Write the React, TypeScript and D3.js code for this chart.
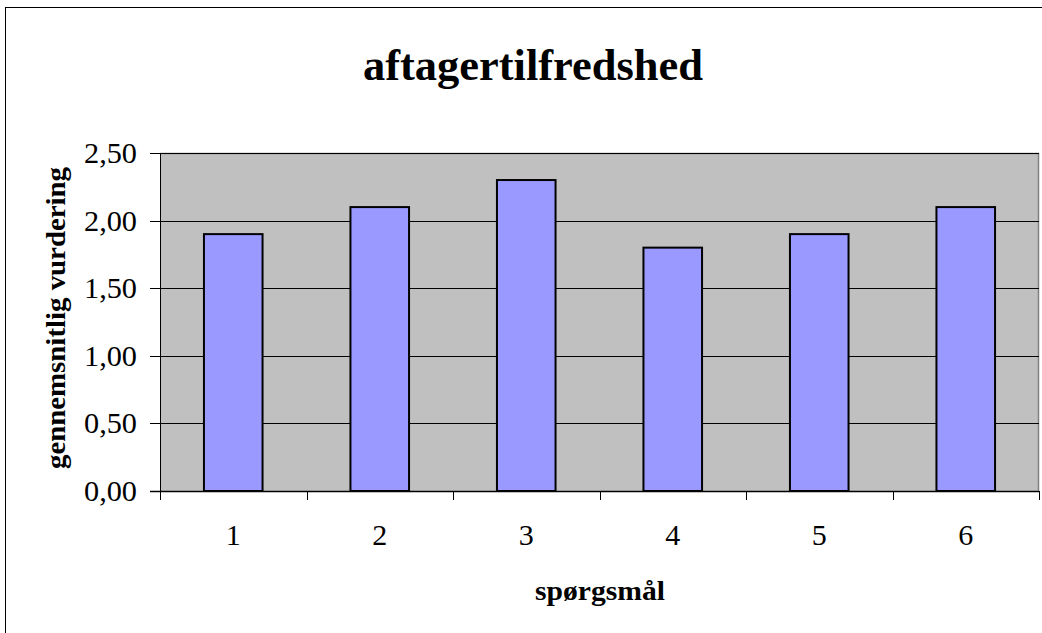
import React from "react";
import * as d3 from "d3";

const categories = ["1", "2", "3", "4", "5", "6"];
const values = [1.9, 2.1, 2.3, 1.8, 1.9, 2.1];
const yTicks = [0, 0.5, 1, 1.5, 2, 2.5];
const title = "aftagertilfredshed";
const xTitle = "spørgsmål";
const yTitle = "gennemsnitlig vurdering";

export default function App() {
  const W = 1042, H = 633;
  const left = 160, right = 1039, top = 153, bottom = 491;
  const x = d3.scaleBand<string>().domain(categories).range([left, right]).paddingInner(0).paddingOuter(0);
  const y = d3.scaleLinear().domain([0, 2.5]).range([bottom, top]);
  const bw = x.bandwidth() * 0.4;
  const fmt = (v: number) => d3.format(".2f")(v).replace(".", ",");
  const font = "'Liberation Serif', 'Times New Roman', serif";
  const boundaries = d3.range(categories.length + 1).map((i) => left + i * x.step());
  return (
    <svg width={W} height={H} style={{ position: "absolute", left: 0, top: 0, background: "#fff" }} fontFamily={font}>
      <rect x={5.5} y={7.5} width={1200} height={800} fill="#fff" stroke="#000" strokeWidth={1} />
      <text x={533} y={80} textAnchor="middle" fontSize={44} fontWeight="bold" textLength={340} lengthAdjust="spacingAndGlyphs">{title}</text>
      <rect x={left} y={top} width={right - left} height={bottom - top} fill="#C0C0C0" />
      <line x1={left} x2={right} y1={top + 0.5} y2={top + 0.5} stroke="#808080" strokeWidth={1.5} />
      <line x1={right - 0.5} x2={right - 0.5} y1={top} y2={bottom} stroke="#808080" strokeWidth={1.5} />
      {yTicks.filter((t) => t > 0).map((t) => (
        <line key={"g" + t} x1={left} x2={right} y1={Math.round(y(t)) + 0.5} y2={Math.round(y(t)) + 0.5} stroke="#000" strokeWidth={1} />
      ))}
      {categories.map((c, i) => {
        const cx = (x(c) as number) + x.bandwidth() / 2;
        return (
          <rect key={c} x={cx - bw / 2} y={y(values[i])} width={bw} height={bottom - y(values[i])} fill="#9999FF" stroke="#000" strokeWidth={2} />
        );
      })}
      <line x1={left + 0.5} x2={left + 0.5} y1={top} y2={bottom + 9} stroke="#000" strokeWidth={1} />
      <line x1={left - 10} x2={right} y1={bottom + 0.5} y2={bottom + 0.5} stroke="#000" strokeWidth={1.5} />
      {yTicks.map((t) => (
        <g key={"t" + t}>
          <line x1={left - 10} x2={left} y1={Math.round(y(t)) + 0.5} y2={Math.round(y(t)) + 0.5} stroke="#000" strokeWidth={1} />
          <text x={137} y={y(t) + 10} textAnchor="end" fontSize={30} textLength={53} lengthAdjust="spacingAndGlyphs">{fmt(t)}</text>
        </g>
      ))}
      {boundaries.map((b, i) => (
        <line key={"b" + i} x1={Math.round(b) + 0.5} x2={Math.round(b) + 0.5} y1={bottom} y2={bottom + 9} stroke="#000" strokeWidth={1} />
      ))}
      {categories.map((c) => (
        <text key={"l" + c} x={(x(c) as number) + x.bandwidth() / 2} y={545} textAnchor="middle" fontSize={30}>{c}</text>
      ))}
      <text x={600} y={600} textAnchor="middle" fontSize={28} fontWeight="bold" textLength={130} lengthAdjust="spacingAndGlyphs">{xTitle}</text>
      <text transform={`translate(65,318) rotate(-90)`} textAnchor="middle" fontSize={28} fontWeight="bold" textLength={302} lengthAdjust="spacingAndGlyphs">{yTitle}</text>
    </svg>
  );
}
